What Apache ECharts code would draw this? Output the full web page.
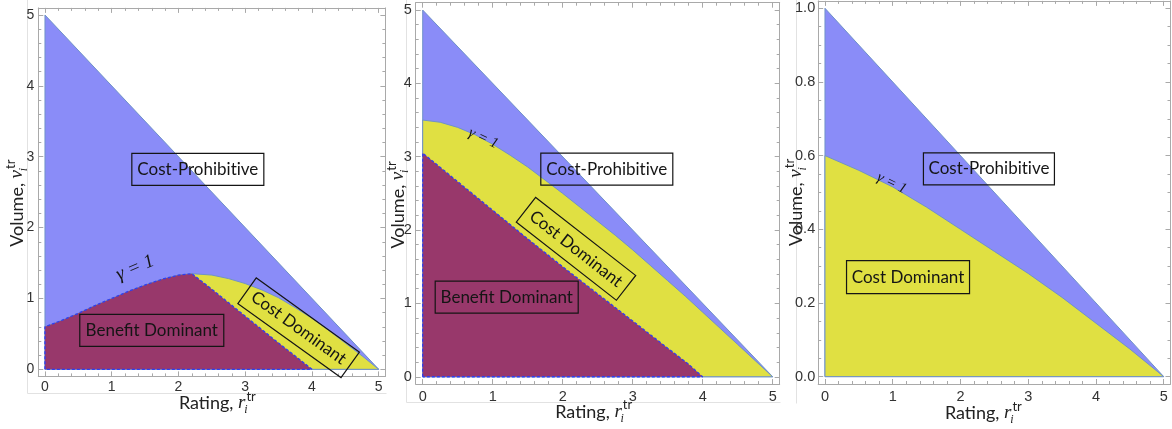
<!DOCTYPE html>
<html>
<head>
<meta charset="utf-8">
<script src="https://cdn.jsdelivr.net/npm/echarts@6/dist/echarts.min.js"></script>
<style>
  html, body { margin: 0; padding: 0; background: #fff; }
  #chart { width: 1172px; height: 429px; }
</style>
</head>
<body>
<div id="chart"></div>
<script>
// ---------- tick labels ----------
const ratingTicks = [0, 1, 2, 3, 4, 5];
const volumeTicksWide = [0, 1, 2, 3, 4, 5];
const volumeTicksUnit = [0, 0.2, 0.4, 0.6, 0.8, 1.0];

// ---------- panel A (left) ----------
const budgetA_r = [0, 0, 5, 0];
const budgetA_v = [0, 5, 0, 0];
const gammaA_r = [0, 0.25, 0.5, 0.75, 1, 1.25, 1.5, 1.75, 2, 2.2, 2.5, 2.75, 3, 3.25, 3.5, 3.75, 4, 4.25, 4.5, 4.75, 5];
const gammaA_v = [0.60, 0.69, 0.79, 0.90, 1.00, 1.10, 1.19, 1.27, 1.33, 1.35, 1.33, 1.28, 1.21, 1.12, 1.01, 0.87, 0.72, 0.55, 0.37, 0.19, 0];
const benefitEdgeA_r = [2.5, 3, 3.5, 3.8, 4];
const benefitEdgeA_v = [1.13, 0.75, 0.37, 0.15, 0];
const benefitPeakA = 2.2;

// ---------- panel B (middle) ----------
const budgetB_r = [0, 0, 5, 0];
const budgetB_v = [0, 5, 0, 0];
const gammaB_r = [0, 0.25, 0.5, 0.75, 1, 1.25, 1.5, 1.75, 2, 2.25, 2.5, 2.75, 3, 3.25, 3.5, 3.75, 4, 4.25, 4.5, 4.75, 5];
const gammaB_v = [3.50, 3.47, 3.40, 3.30, 3.17, 3.02, 2.86, 2.68, 2.50, 2.31, 2.12, 1.93, 1.73, 1.52, 1.31, 1.10, 0.88, 0.66, 0.44, 0.22, 0];
const benefitB_r = [0, 0.5, 1, 1.5, 2, 2.5, 3, 3.5, 3.8, 3.95, 4];
const benefitB_v = [3.05, 2.66, 2.27, 1.88, 1.50, 1.13, 0.76, 0.39, 0.17, 0.04, 0];

// ---------- panel C (right) ----------
const budgetC_r = [0, 0, 5, 0];
const budgetC_v = [0, 1, 0, 0];
const gammaC_r = [0, 0.5, 1, 1.5, 2, 2.5, 3, 3.5, 4, 4.5, 5];
const gammaC_v = [0.600, 0.560, 0.515, 0.460, 0.400, 0.340, 0.280, 0.215, 0.145, 0.075, 0];

// ---------- styling ----------
const FRAME = '#a9a9a9';
const TICK_TEXT = '#333';
const BLUE_FILL = '#8a8cf8';
const YELLOW_FILL = '#e0e042';
const PURPLE_FILL = '#98386b';
const EDGE = '#6f92c8';
const DASH = '#2f3ff0';
const SANS = 'Lato';
const SERIF = '"Liberation Serif"';
const ZWNJ = '\u200C'; // keeps "t" and "i" as separate glyphs in Lato

const zip = (xs, ys) => xs.map((x, i) => [x, ys[i]]);

// closed outline for a region under a curve: left edge, curve, back along the floor
function underCurve(rs, vs) {
  return [[rs[0], 0], ...zip(rs, vs), [0, 0]];
}

// benefit region of panel A: follows the gamma curve up to its peak, then a straight edge to the floor
const benefitA = (() => {
  const top = zip(gammaA_r, gammaA_v).filter(p => p[0] <= benefitPeakA);
  return [[0, 0], ...top, ...zip(benefitEdgeA_r, benefitEdgeA_v), [0, 0]];
})();

// ---------- grids (pixel boxes of each frame) ----------
const grids = [
  { left: 38.3, top: 7.9, width: 347.1, height: 368.5 },
  { left: 415.7, top: 2.7, width: 364, height: 381.4 },
  { left: 818.2, top: 0.9, width: 352.3, height: 383.1 }
].map(g => Object.assign(g, { containLabel: false, outerBoundsMode: 'none', show: false }));

const NAME_LH = 26;
const axisNameRich = (size) => ({
  n: { fontFamily: SANS, fontSize: size, color: '#222', lineHeight: NAME_LH, verticalAlign: 'middle' },
  v: { fontFamily: SERIF, fontStyle: 'italic', fontSize: size + 1, color: '#222', lineHeight: NAME_LH, verticalAlign: 'middle' },
  sb: { fontFamily: SERIF, fontStyle: 'italic', fontSize: 12, color: '#222', lineHeight: 12, verticalAlign: 'bottom', width: 1 },
  sp: { fontFamily: SANS, fontSize: 13, color: '#222', lineHeight: 13, verticalAlign: 'top' }
});

const xAxes = [];
const yAxes = [];

// Four axes per side: labelled side with major ticks, its minor ticks, and the mirrored side
function frameSide(list, g, dim, cfg) {
  const isX = dim === 'x';
  const sides = isX ? ['bottom', 'top'] : ['left', 'right'];
  const majors = cfg.labels;
  const minors = [];
  const last = majors[majors.length - 1];
  for (let k = 0; majors[0] + k * cfg.minorStep <= last + 1e-9; k++) {
    const t = Math.round((majors[0] + k * cfg.minorStep) * 10000) / 10000;
    if (!majors.some(m => Math.abs(m - t) < 1e-6)) minors.push(t);
  }
  const base = {
    gridIndex: g, type: 'value', min: cfg.min, max: cfg.max, silent: true,
    splitLine: { show: false }, splitArea: { show: false },
    axisLine: { show: false, onZero: false },
    axisLabel: { show: false }, axisTick: { show: false }
  };
  sides.forEach((pos, si) => {
    const major = Object.assign({}, base, {
      position: pos,
      axisLine: { show: true, onZero: false, lineStyle: { color: FRAME, width: 1 } },
      axisTick: { show: true, inside: true, length: 5, customValues: majors, lineStyle: { color: FRAME, width: 1 } }
    });
    if (si === 0) {
      major.axisLabel = {
        show: true, customValues: majors, formatter: cfg.fmt, color: TICK_TEXT,
        fontFamily: '"Liberation Sans"', fontSize: cfg.fontSize, margin: cfg.labelMargin
      };
      major.name = cfg.name;
      major.nameLocation = 'middle';
      major.nameGap = cfg.nameGap;
      major.nameMoveOverlap = false;
      major.nameTextStyle = { rich: axisNameRich(18), padding: cfg.namePad };
    }
    const minor = Object.assign({}, base, {
      position: pos,
      axisTick: { show: true, inside: true, length: 3, customValues: minors, lineStyle: { color: FRAME, width: 1 } }
    });
    list.push(major, minor);
  });
}

const X_NAME = '{n|Rating, }{v|r}{sb|i}{sp|tr}';
const Y_NAME = '{n|Volume, }{v|v}{sb|i}{sp|tr}';
const intFmt = v => String(Math.round(v));
const oneDec = v => v.toFixed(1);

frameSide(xAxes, 0, 'x', { min: -0.1, max: 5.1, labels: ratingTicks, minorStep: 0.2, fmt: intFmt, fontSize: 14, labelMargin: 4, name: X_NAME, nameGap: 13.6, namePad: [0, 0, 0, 11] });
frameSide(yAxes, 0, 'y', { min: -0.1, max: 5.1, labels: volumeTicksWide, minorStep: 0.2, fmt: intFmt, fontSize: 14, labelMargin: 4, name: Y_NAME, nameGap: 8.3, namePad: [0, 22, 0, 0] });
frameSide(xAxes, 1, 'x', { min: -0.1, max: 5.1, labels: ratingTicks, minorStep: 0.2, fmt: intFmt, fontSize: 14.5, labelMargin: 5, name: X_NAME, nameGap: 14.6, namePad: [0, 8, 0, 0] });
frameSide(yAxes, 1, 'y', { min: -0.1, max: 5.1, labels: volumeTicksWide, minorStep: 0.2, fmt: intFmt, fontSize: 14.5, labelMargin: 4, name: Y_NAME, nameGap: 4.4, namePad: [0, 23, 0, 0] });
frameSide(xAxes, 2, 'x', { min: -0.1, max: 5.1, labels: ratingTicks, minorStep: 0.2, fmt: intFmt, fontSize: 14.5, labelMargin: 5, name: X_NAME, nameGap: 16.3, namePad: [0, 22, 0, 0] });
frameSide(yAxes, 2, 'y', { min: -0.02, max: 1.02, labels: volumeTicksUnit, minorStep: 0.05, fmt: oneDec, fontSize: 14.5, labelMargin: 3, name: Y_NAME, nameGap: 9.2, namePad: [0, 20, 0, 0] });

// ---------- region annotations (anchors in data units) ----------
const BOX_FONT = '17px ' + SANS;
const COST_PROHIBITIVE = 'Cost-Prohibit' + ZWNJ + 'ive';
const annotationsA = [
  { text: COST_PROHIBITIVE, at: [2.29, 2.82], box: [132, 32] },
  { text: 'Benefit Dominant', at: [1.60, 0.55], box: [144, 32] },
  { text: 'Cost Dominant', at: [3.80, 0.586], box: [127, 31.5], rot: -35.7 },
  { text: 'γ = 1', at: [1.35, 1.43], rot: 23, font: 'italic 19px ' + SERIF }
];
const annotationsB = [
  { text: COST_PROHIBITIVE, at: [2.63, 2.83], box: [132, 32] },
  { text: 'Benefit Dominant', at: [1.20, 1.085], box: [143, 32] },
  { text: 'Cost Dominant', at: [2.19, 1.745], box: [127, 31.4], rot: -38 },
  { text: 'γ = 1', at: [0.866, 3.25], rot: -25, font: 'italic 15px ' + SERIF }
];
const annotationsC = [
  { text: COST_PROHIBITIVE, at: [2.42, 0.564], box: [131, 32] },
  { text: 'Cost Dominant', at: [1.226, 0.270], box: [123, 33] },
  { text: 'γ = 1', at: [0.985, 0.525], rot: -26, font: 'italic 15px ' + SERIF }
];

function region(g, pts, fill, edge, dashed, z) {
  return {
    type: 'line', xAxisIndex: 4 * g, yAxisIndex: 4 * g, data: pts,
    symbol: 'none', smooth: false, clip: false, silent: true, z: z,
    lineStyle: { color: edge, width: dashed ? 1.3 : 1, type: dashed ? [3, 2] : 'solid' },
    areaStyle: { color: fill, opacity: 1, origin: 'auto' }
  };
}

function annotationLayer(g, items) {
  return {
    type: 'custom', xAxisIndex: 4 * g, yAxisIndex: 4 * g, z: 20, silent: true, clip: false,
    data: items.map(it => it.at),
    renderItem(params, api) {
      const it = items[params.dataIndex];
      const p = api.coord([api.value(0), api.value(1)]);
      const children = [];
      if (it.box) {
        children.push({
          type: 'rect',
          shape: { x: -it.box[0] / 2, y: -it.box[1] / 2, width: it.box[0], height: it.box[1] },
          style: { fill: null, stroke: '#151515', lineWidth: 1.2 }
        });
      }
      children.push({
        type: 'text',
        style: { text: it.text, x: 0, y: 0, align: 'center', verticalAlign: 'middle', font: it.font || BOX_FONT, fill: '#151515' }
      });
      return { type: 'group', x: p[0], y: p[1], rotation: (it.rot || 0) * Math.PI / 180, children };
    }
  };
}

const series = [
  // panel A
  region(0, zip(budgetA_r, budgetA_v), BLUE_FILL, EDGE, false, 2),
  region(0, underCurve(gammaA_r, gammaA_v), YELLOW_FILL, EDGE, false, 3),
  region(0, benefitA, PURPLE_FILL, DASH, true, 4),
  annotationLayer(0, annotationsA),
  // panel B
  region(1, zip(budgetB_r, budgetB_v), BLUE_FILL, EDGE, false, 2),
  region(1, underCurve(gammaB_r, gammaB_v), YELLOW_FILL, EDGE, false, 3),
  region(1, underCurve(benefitB_r, benefitB_v), PURPLE_FILL, DASH, true, 4),
  annotationLayer(1, annotationsB),
  // panel C
  region(2, zip(budgetC_r, budgetC_v), BLUE_FILL, EDGE, false, 2),
  region(2, underCurve(gammaC_r, gammaC_v), YELLOW_FILL, EDGE, false, 3),
  annotationLayer(2, annotationsC)
];

// light borders around each of the three plot tiles
const tileEdge = { stroke: '#e2e2e2', lineWidth: 1 };
const graphic = [
  { type: 'line', shape: { x1: 27.5, y1: 0, x2: 27.5, y2: 393.5 }, style: tileEdge, silent: true },
  { type: 'line', shape: { x1: 27.5, y1: 393.5, x2: 386.5, y2: 393.5 }, style: tileEdge, silent: true },
  { type: 'line', shape: { x1: 406.5, y1: 0, x2: 406.5, y2: 402.5 }, style: tileEdge, silent: true },
  { type: 'line', shape: { x1: 406.5, y1: 402.5, x2: 780.5, y2: 402.5 }, style: tileEdge, silent: true },
  { type: 'line', shape: { x1: 796.5, y1: 0, x2: 796.5, y2: 403.5 }, style: tileEdge, silent: true }
];

const chart = echarts.init(document.getElementById('chart'), null, { renderer: 'canvas' });
chart.setOption({
  animation: false,
  backgroundColor: '#fff',
  grid: grids,
  xAxis: xAxes,
  yAxis: yAxes,
  series: series,
  graphic: graphic
});
</script>
</body>
</html>
